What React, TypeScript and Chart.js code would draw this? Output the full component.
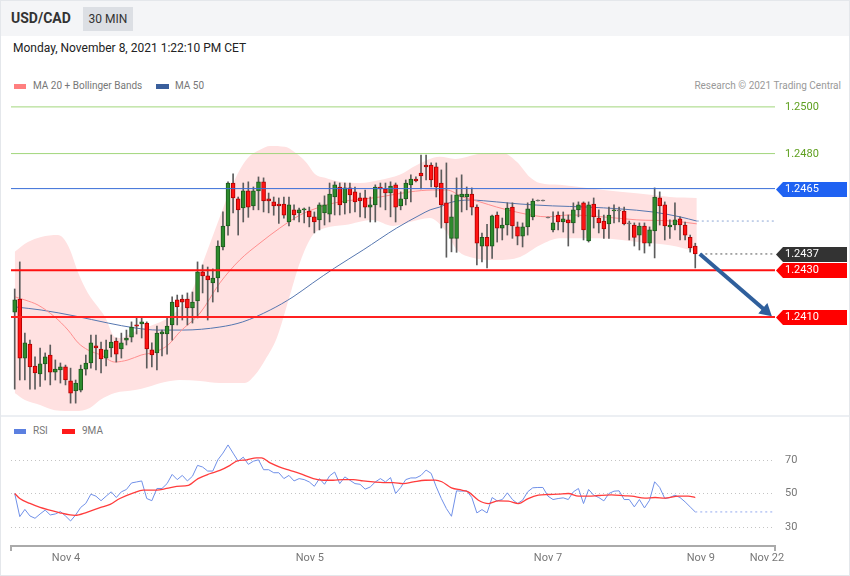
import React, { useEffect, useRef } from 'react';
import { Chart, registerables } from 'chart.js';
Chart.register(...registerables);

const FONT = 'Roboto, Arial, sans-serif';

// ---- Candles (30 MIN, USD/CAD) ----
const candleOpen = [1.24121,1.24177,1.23924,1.23984,1.23890,1.23856,1.23899,1.23937,1.23864,1.23873,1.23886,1.23826,1.23783,1.23787,1.23877,1.23903,1.23976,1.23963,1.23924,1.23967,1.23997,1.23963,1.24001,1.24014,1.24066,1.24070,1.24074,1.23959,1.23946,1.24027,1.24027,1.24066,1.24173,1.24177,1.24177,1.24139,1.24169,1.24293,1.24276,1.24246,1.24267,1.24400,1.24490,1.24674,1.24606,1.24567,1.24640,1.24576,1.24640,1.24679,1.24606,1.24593,1.24584,1.24584,1.24507,1.24559,1.24546,1.24559,1.24554,1.24529,1.24516,1.24546,1.24541,1.24614,1.24657,1.24589,1.24653,1.24636,1.24610,1.24610,1.24571,1.24580,1.24657,1.24649,1.24631,1.24666,1.24576,1.24606,1.24666,1.24691,1.24717,1.24751,1.24751,1.24743,1.24674,1.24589,1.24437,1.24437,1.24614,1.24614,1.24627,1.24571,1.24403,1.24441,1.24403,1.24537,1.24481,1.24494,1.24571,1.24486,1.24446,1.24486,1.24529,1.24597,1.24597,1.24524,1.24473,1.24537,1.24507,1.24516,1.24503,1.24559,1.24589,1.24426,1.24584,1.24524,1.24511,1.24499,1.24554,1.24554,1.24554,1.24499,1.24494,1.24451,1.24490,1.24416,1.24469,1.24610,1.24580,1.24486,1.24494,1.24520,1.24494,1.24441,1.24404];
const candleHigh = [1.24220,1.24336,1.24031,1.24001,1.23929,1.23967,1.23946,1.23980,1.23916,1.23903,1.23894,1.23881,1.23830,1.23894,1.23937,1.24023,1.24023,1.23993,1.24001,1.24023,1.24010,1.24031,1.24044,1.24079,1.24096,1.24096,1.24079,1.23989,1.24061,1.24044,1.24096,1.24186,1.24194,1.24194,1.24203,1.24207,1.24336,1.24323,1.24314,1.24306,1.24426,1.24550,1.24679,1.24713,1.24614,1.24674,1.24679,1.24657,1.24700,1.24696,1.24631,1.24614,1.24610,1.24614,1.24614,1.24580,1.24567,1.24567,1.24571,1.24550,1.24589,1.24619,1.24674,1.24679,1.24674,1.24674,1.24674,1.24657,1.24631,1.24644,1.24614,1.24666,1.24674,1.24674,1.24679,1.24674,1.24636,1.24687,1.24709,1.24700,1.24794,1.24794,1.24760,1.24760,1.24730,1.24760,1.24623,1.24696,1.24709,1.24657,1.24653,1.24580,1.24460,1.24497,1.24537,1.24550,1.24524,1.24589,1.24589,1.24507,1.24503,1.24589,1.24606,1.24597,1.24597,1.24524,1.24550,1.24550,1.24550,1.24537,1.24589,1.24593,1.24593,1.24593,1.24610,1.24559,1.24537,1.24571,1.24580,1.24571,1.24571,1.24511,1.24503,1.24503,1.24503,1.24486,1.24653,1.24636,1.24593,1.24516,1.24589,1.24529,1.24507,1.24451,1.24416];
const candleLow = [1.23791,1.23830,1.23830,1.23791,1.23791,1.23803,1.23830,1.23809,1.23830,1.23817,1.23809,1.23731,1.23731,1.23779,1.23851,1.23881,1.23873,1.23860,1.23890,1.23929,1.23907,1.23924,1.23980,1.23993,1.24027,1.24010,1.23881,1.23886,1.23873,1.23933,1.23941,1.24001,1.24066,1.24087,1.24066,1.24074,1.24096,1.24203,1.24087,1.24164,1.24207,1.24387,1.24451,1.24546,1.24451,1.24507,1.24527,1.24559,1.24559,1.24550,1.24546,1.24536,1.24501,1.24523,1.24490,1.24516,1.24507,1.24503,1.24486,1.24460,1.24473,1.24494,1.24507,1.24537,1.24537,1.24541,1.24546,1.24550,1.24529,1.24524,1.24507,1.24507,1.24571,1.24559,1.24529,1.24507,1.24559,1.24580,1.24593,1.24679,1.24649,1.24687,1.24657,1.24614,1.24481,1.24356,1.24379,1.24377,1.24550,1.24559,1.24537,1.24323,1.24336,1.24310,1.24351,1.24421,1.24430,1.24451,1.24437,1.24409,1.24400,1.24451,1.24516,1.24597,1.24597,1.24524,1.24464,1.24473,1.24464,1.24404,1.24460,1.24529,1.24430,1.24421,1.24481,1.24460,1.24437,1.24437,1.24503,1.24507,1.24494,1.24430,1.24404,1.24387,1.24374,1.24404,1.24353,1.24494,1.24430,1.24437,1.24473,1.24430,1.24430,1.24378,1.24310];
const candleClose = [1.24173,1.23924,1.23989,1.23886,1.23860,1.23899,1.23929,1.23864,1.23877,1.23886,1.23830,1.23774,1.23817,1.23877,1.23903,1.23989,1.23967,1.23920,1.23959,1.23993,1.23941,1.23989,1.24010,1.24057,1.24061,1.24079,1.23963,1.23937,1.24031,1.24036,1.24061,1.24164,1.24143,1.24164,1.24139,1.24164,1.24293,1.24276,1.24259,1.24267,1.24404,1.24490,1.24674,1.24610,1.24559,1.24640,1.24571,1.24640,1.24679,1.24597,1.24597,1.24576,1.24576,1.24536,1.24580,1.24537,1.24559,1.24561,1.24529,1.24507,1.24580,1.24580,1.24627,1.24666,1.24580,1.24653,1.24623,1.24593,1.24597,1.24571,1.24580,1.24657,1.24649,1.24631,1.24661,1.24571,1.24606,1.24674,1.24691,1.24683,1.24704,1.24743,1.24687,1.24657,1.24580,1.24503,1.24529,1.24623,1.24627,1.24627,1.24571,1.24416,1.24441,1.24403,1.24533,1.24481,1.24494,1.24567,1.24490,1.24446,1.24486,1.24563,1.24597,1.24597,1.24597,1.24524,1.24503,1.24507,1.24520,1.24503,1.24559,1.24580,1.24473,1.24580,1.24529,1.24503,1.24477,1.24537,1.24559,1.24554,1.24499,1.24499,1.24441,1.24490,1.24416,1.24473,1.24614,1.24576,1.24490,1.24494,1.24516,1.24494,1.24451,1.24396,1.24370];

// ---- Bollinger bands / moving averages (bar index, price) ----
const bbUpperIdx = [0,2.6,5.2,8.5,9.5,10.9,12.5,14.4,16.4,17.8,19.7,20.9,22.3,24.3,26.2,28.2,30.2,32.1,34.5,37.1,39.8,41.8,43.8,45.9,48.3,50.3,53.2,54.8,57.5,59.1,61.1,64,68,71.9,75.8,79.2,83.7,86.7,91.6,96.1,98.9,101.4,103.4,107.3,112.7,119.2,125.6,129,134.3];
const bbUpperVal = [1.24379,1.24421,1.24443,1.24451,1.24439,1.24387,1.24289,1.24203,1.24143,1.24100,1.24014,1.24010,1.24023,1.24044,1.24057,1.24074,1.24096,1.24130,1.24194,1.24336,1.24494,1.24610,1.24709,1.24781,1.24816,1.24833,1.24829,1.24811,1.24760,1.24713,1.24696,1.24679,1.24674,1.24687,1.24709,1.24751,1.24786,1.24777,1.24799,1.24803,1.24764,1.24700,1.24674,1.24666,1.24653,1.24636,1.24623,1.24614,1.24610];
const bbLowerIdx = [0,2,5,7.9,11.9,14.8,16.8,19.7,23.7,26.2,29.6,32.5,36.5,40.4,45.3,47.3,49.3,51.6,54.2,56.2,58.7,61.1,65,70.5,74.5,77.8,81.7,84.7,87.1,89.6,94.9,99.5,103.4,107.3,115.2,123.1,129,134.3];
const bbLowerVal = [1.23774,1.23744,1.23723,1.23701,1.23697,1.23710,1.23744,1.23774,1.23787,1.23800,1.23821,1.23830,1.23826,1.23817,1.23817,1.23851,1.23916,1.24010,1.24194,1.24336,1.24451,1.24481,1.24494,1.24516,1.24490,1.24507,1.24524,1.24473,1.24387,1.24357,1.24344,1.24357,1.24407,1.24437,1.24437,1.24420,1.24407,1.24379];
const ma20Idx = [0.1,2,4.6,7.9,10.5,12.5,14.4,17,19.7,22.3,24.9,27.6,30.2,32.5,36.5,40.4,44.3,48.3,52.2,56.2,60.1,63,71.9,77.8,82.3,85.1,88.2,91.6,94.9,99.5,104.8,109.3,115.8,122.5,129.6,134.3];
const ma20Val = [1.24186,1.24173,1.24151,1.24100,1.24044,1.23989,1.23959,1.23937,1.23907,1.23916,1.23937,1.23950,1.23980,1.24036,1.24117,1.24246,1.24344,1.24417,1.24481,1.24537,1.24571,1.24589,1.24614,1.24636,1.24644,1.24644,1.24614,1.24593,1.24571,1.24546,1.24529,1.24537,1.24529,1.24516,1.24511,1.24499];
const ma50Idx = [0.1,5.2,11.9,18.4,23.7,28.2,33.1,40.4,44.9,50.3,54.8,58.7,63,68.6,75.2,79.8,81.8,83.7,85.7,89.6,94.9,99.5,105.9,112.7,119.2,125.6,131,134.3];
const ma50Val = [1.24143,1.24130,1.24104,1.24074,1.24053,1.24044,1.24044,1.24057,1.24079,1.24130,1.24186,1.24246,1.24310,1.24387,1.24481,1.24537,1.24559,1.24571,1.24590,1.24601,1.24593,1.24584,1.24576,1.24571,1.24563,1.24550,1.24529,1.24511];

// ---- Levels & tags ----
const levelValues = [1.2500, 1.2480, 1.2465, 1.2430, 1.2410];
const tagValues = [1.2500, 1.2480, 1.2465, 1.2437, 1.2430, 1.2410];
const tagLabels = ['1.2500', '1.2480', '1.2465', '1.2437', '1.2430', '1.2410'];
const lastPrice = 1.2437;
const arrowIdx = [134.9, 147.9];
const arrowVal = [1.2437, 1.24126];

// ---- RSI ----
const rsiValues = [50,36.2,40.5,36.6,35.2,37.8,40.1,37.2,37.8,39.2,36.6,33.6,37.2,41.7,44.1,49.6,48.4,45.7,48.4,51,47.6,51,52.4,56.3,56.9,57.5,47,45.7,53,53,55.9,61.4,58.3,60.8,57.5,60.3,66.8,65.8,63.4,63.4,70.1,74.1,79,74.1,69.3,71.7,67.4,69.3,70.1,64.2,64.2,62.4,62.4,58.9,60.8,57.5,58.9,58.3,56.9,54.3,58.9,55.5,60.5,62.8,55.9,59.9,57.9,55.9,55.5,52.6,53.9,56.9,58.9,56.9,59.5,50,53.6,58.3,59.3,59.3,60.8,64,62,54,47,41,36.4,51.6,51.4,51.6,47.6,38.4,40.4,38.4,47.6,45.6,46.4,50.4,46.4,44,46,51,53.4,53.6,53.6,48.4,46.4,47,47.4,46.4,51,53,44,52.4,49,47.6,45.6,50,51.4,51.6,46.4,46.4,42,46.4,41.4,46,57,53.6,47,47.6,49,47.6,45,42,39];
const rsiMaIdx = [0,1,3,5,6.9,8.9,10.9,11.9,14.2,16.8,18.8,20.7,23.4,25.3,27.9,29.9,31.9,34.2,36.1,38.4,40.4,42.4,43.7,45.7,47.6,48.6,50.3,52.2,54.2,56.2,58.8,60.8,62.7,64.7,66.7,68.6,70.6,72.6,74.5,76.5,78.5,80.8,82.8,84.1,86,88,89.3,91.3,93.3,95.2,97.2,99.2,101.1,103.1,105.1,107,109,111,113,114.9,117.5,120.2,121.5,124.1,126.1,128,130.7,132.6,134];
const rsiMaVal = [50,47,44.1,41.7,40.1,38.5,37.2,37,38.8,41.5,43.5,47,50.4,52,52,53,54.3,54.9,58.9,61.8,63.8,66.8,69.3,70.1,71.3,71.3,68.3,65.8,63.8,61.8,58.9,57.9,57.9,58.3,58.3,57.5,56.9,56.5,56.5,55.9,56.9,57.9,58,57,53.4,52,51,46,44,45.6,45.4,44,47,49,49.4,49.6,50,48.4,48.4,48.8,49.2,48.6,48.4,47.2,47.6,47.2,48.4,48.4,47.6];
const rsiGridValues = [30, 50, 70];
const xTickValues = [-0.73, 10.1, 58.1, 105, 135.1, 148.1, 149.7];
const xTickLabels = ['', 'Nov 4', 'Nov 5', 'Nov 7', 'Nov 9', 'Nov 22', ''];

const X_MIN = -0.73;
const X_MAX = 149.7;

const GREEN = '#2e8b2e';
const GREEN_EDGE = '#1c5a1c';
const RED = '#ff1414';
const RED_EDGE = '#b00000';
const levelColors = ['#a2d67c', '#a2d67c', '#3a6fd8', '#ff1010', '#ff2020'];
const levelWidths = [1, 1, 1, 2, 2];
const tagBg = ['', '', '#1f62f2', '#333333', '#ff0000', '#ff0000'];
const tagText = ['#5fa020', '#5fa020', '#ffffff', '#ffffff', '#ffffff', '#ffffff'];

const pts = (xs: number[], ys: number[]) => xs.map((x, i) => ({ x, y: ys[i] }));

const tagPlugin = {
  id: 'priceTags',
  afterDraw(chart: any) {
    const { ctx, chartArea } = chart;
    const y = chart.scales.y;
    ctx.save();
    ctx.font = `11px ${FONT}`;
    ctx.textBaseline = 'middle';
    ctx.textAlign = 'left';
    tagValues.forEach((v, i) => {
      const py = Math.round(y.getPixelForValue(v)) + 0.5;
      const left = chartArea.right + 1;
      if (tagBg[i]) {
        ctx.fillStyle = tagBg[i];
        ctx.beginPath();
        ctx.moveTo(left, py);
        ctx.lineTo(left + 7, py - 7.5);
        ctx.lineTo(847, py - 7.5);
        ctx.lineTo(847, py + 7.5);
        ctx.lineTo(left + 7, py + 7.5);
        ctx.closePath();
        ctx.fill();
      }
      ctx.fillStyle = tagText[i];
      ctx.fillText(tagLabels[i], 785, py);
    });
    ctx.restore();
  },
};

const noPad = (s: any) => {
  s.paddingTop = 0;
  s.paddingBottom = 0;
  s.paddingLeft = 0;
  s.paddingRight = 0;
};

export default function App() {
  const priceRef = useRef<HTMLCanvasElement>(null);
  const rsiRef = useRef<HTMLCanvasElement>(null);

  useEffect(() => {
    Chart.defaults.font.family = FONT;
    const idx = candleOpen.map((_, i) => i);
    const bodyColors = idx.map((i) => (candleClose[i] > candleOpen[i] ? GREEN : candleClose[i] < candleOpen[i] ? RED : '#777777'));
    const bodyEdges = idx.map((i) => (candleClose[i] > candleOpen[i] ? GREEN_EDGE : candleClose[i] < candleOpen[i] ? RED_EDGE : '#777777'));

    const levelSets = levelValues.map((v, i) => ({
      type: 'line',
      data: [{ x: X_MIN, y: v }, { x: X_MAX, y: v }],
      borderColor: levelColors[i],
      borderWidth: levelWidths[i],
      pointRadius: 0,
      order: 1,
    }));

    const price = new Chart(priceRef.current as HTMLCanvasElement, {
      type: 'line',
      data: {
        datasets: [
          {
            type: 'line',
            data: pts(bbUpperIdx, bbUpperVal),
            borderColor: 'transparent',
            borderWidth: 0,
            pointRadius: 0,
            cubicInterpolationMode: 'monotone',
            fill: '+1',
            backgroundColor: '#ffe1e1',
            order: 20,
          },
          {
            type: 'line',
            data: pts(bbLowerIdx, bbLowerVal),
            borderColor: 'transparent',
            borderWidth: 0,
            pointRadius: 0,
            cubicInterpolationMode: 'monotone',
            fill: false,
            order: 21,
          },
          {
            type: 'line',
            data: pts(ma50Idx, ma50Val),
            borderColor: '#5677b0',
            borderWidth: 1,
            pointRadius: 0,
            cubicInterpolationMode: 'monotone',
            order: 9,
          },
          {
            type: 'line',
            data: pts(ma20Idx, ma20Val),
            borderColor: '#ff8f8f',
            borderWidth: 1,
            pointRadius: 0,
            cubicInterpolationMode: 'monotone',
            order: 8,
          },
          {
            type: 'line',
            data: [{ x: ma50Idx[ma50Idx.length - 1], y: ma50Val[ma50Val.length - 1] }, { x: X_MAX, y: ma50Val[ma50Val.length - 1] }],
            borderColor: '#8ca6d6',
            borderWidth: 1,
            borderDash: [2, 3],
            pointRadius: 0,
            order: 7,
          },
          {
            type: 'line',
            data: [{ x: 135, y: lastPrice }, { x: X_MAX, y: lastPrice }],
            borderColor: '#555555',
            borderWidth: 1,
            borderDash: [2, 3],
            pointRadius: 0,
            order: 7,
          },
          {
            type: 'bar',
            data: idx.map((i) => ({ x: i, y: [candleLow[i], candleHigh[i]] })),
            backgroundColor: '#5c5c5c',
            barThickness: 1,
            grouped: false,
            minBarLength: 1,
            order: 5,
          },
          {
            type: 'bar',
            data: idx.map((i) => ({ x: i, y: [candleOpen[i], candleClose[i]] })),
            backgroundColor: bodyColors,
            borderColor: bodyEdges,
            borderWidth: 1,
            borderSkipped: false,
            barThickness: 4,
            grouped: false,
            minBarLength: 1,
            order: 4,
          },
          ...levelSets,
          {
            type: 'line',
            data: pts(arrowIdx, arrowVal),
            borderColor: '#2f5f9c',
            backgroundColor: '#2f5f9c',
            borderWidth: 4,
            pointRadius: [0, 8],
            pointStyle: 'triangle',
            pointRotation: 131,
            pointBorderWidth: 0,
            order: 0,
          },
        ] as any,
      },
      options: {
        animation: false,
        responsive: false,
        devicePixelRatio: 1,
        events: [],
        layout: { autoPadding: false, padding: { left: 11, right: 75, top: 0, bottom: 0 } },
        plugins: { legend: { display: false }, tooltip: { enabled: false } },
        scales: {
          x: { type: 'linear', display: false, min: X_MIN, max: X_MAX, offset: false },
          y: { type: 'linear', display: false, min: 1.23693, max: 1.25051 },
        },
      },
      plugins: [tagPlugin],
    } as any);

    const rsi = new Chart(rsiRef.current as HTMLCanvasElement, {
      type: 'line',
      data: {
        datasets: [
          {
            data: rsiValues.map((v, i) => ({ x: i, y: v })),
            borderColor: '#7090e8',
            borderWidth: 1,
            pointRadius: 0,
            order: 2,
          },
          {
            data: pts(rsiMaIdx, rsiMaVal),
            borderColor: '#ff3c3c',
            borderWidth: 1.3,
            pointRadius: 0,
            cubicInterpolationMode: 'monotone',
            order: 1,
          },
          {
            data: [{ x: rsiValues.length - 1, y: rsiValues[rsiValues.length - 1] }, { x: X_MAX, y: rsiValues[rsiValues.length - 1] }],
            borderColor: '#93a9ef',
            borderWidth: 1,
            borderDash: [2, 3],
            pointRadius: 0,
            order: 3,
          },
        ],
      },
      options: {
        animation: false,
        responsive: false,
        devicePixelRatio: 1,
        events: [],
        layout: { autoPadding: false, padding: { left: 11, right: 0, top: 0, bottom: 0 } },
        plugins: { legend: { display: false }, tooltip: { enabled: false } },
        scales: {
          x: {
            type: 'linear',
            min: X_MIN,
            max: X_MAX,
            offset: false,
            afterBuildTicks: (s: any) => {
              s.ticks = xTickValues.map((v) => ({ value: v }));
            },
            afterFit: (s: any) => {
              s.height = 30;
              noPad(s);
            },
            ticks: {
              autoSkip: false,
              maxRotation: 0,
              padding: 1,
              color: '#777777',
              font: { size: 11, family: FONT },
              callback: (_v: any, i: number) => xTickLabels[i],
            },
            grid: {
              drawOnChartArea: false,
              drawTicks: true,
              tickLength: 5,
              lineWidth: 2,
              color: (c: any) => (c.index === 0 || c.index === xTickValues.length - 1 ? '#aaaaaa' : 'rgba(0,0,0,0)'),
            },
            border: { display: true, color: '#aaaaaa', width: 2 },
          },
          y: {
            type: 'linear',
            position: 'right',
            min: 18.66,
            max: 81.94,
            afterBuildTicks: (s: any) => {
              s.ticks = rsiGridValues.map((v) => ({ value: v }));
            },
            afterFit: (s: any) => {
              s.width = 75;
              noPad(s);
            },
            ticks: { padding: 10, color: '#777777', font: { size: 11, family: FONT } },
            grid: { drawTicks: false, color: '#c4c4c4', lineWidth: 1 },
            border: { display: false, dash: [1, 3] },
          },
        },
      },
    } as any);

    return () => {
      price.destroy();
      rsi.destroy();
    };
  }, []);

  const txt: React.CSSProperties = { position: 'absolute', whiteSpace: 'nowrap', lineHeight: 1 };

  return (
    <div style={{ position: 'absolute', left: 0, top: 0, width: 850, height: 576, background: '#ffffff', fontFamily: FONT, overflow: 'hidden' }}>
      <div style={{ position: 'absolute', left: 0, top: 0, width: 850, height: 576, boxSizing: 'border-box', border: '1px solid #e4e7eb' }} />
      <div style={{ position: 'absolute', left: 1, top: 1, width: 848, height: 35, background: '#f4f5f7' }} />
      <div style={{ ...txt, left: 11, top: 11, fontSize: 14, fontWeight: 700, color: '#333' }}>USD/CAD</div>
      <div style={{ position: 'absolute', left: 83, top: 7, width: 50, height: 24, background: '#dcdfe4', color: '#333', fontSize: 12, lineHeight: '24px', textAlign: 'center' }}>30 MIN</div>
      <div style={{ ...txt, left: 13, top: 42, fontSize: 12, color: '#222' }}>Monday, November 8, 2021 1:22:10 PM CET</div>

      <div style={{ position: 'absolute', left: 14, top: 84, width: 12, height: 5, background: '#ff7f7f' }} />
      <div style={{ ...txt, left: 33, top: 81, fontSize: 10, color: '#777' }}>MA 20 + Bollinger Bands</div>
      <div style={{ position: 'absolute', left: 156, top: 84, width: 13, height: 5, background: '#3a5f9c' }} />
      <div style={{ ...txt, left: 175, top: 81, fontSize: 10, color: '#777' }}>MA 50</div>
      <div style={{ ...txt, right: 9, top: 81, fontSize: 10, color: '#999' }}>Research © 2021 Trading Central</div>

      <canvas ref={priceRef} width={850} height={317} style={{ position: 'absolute', left: 0, top: 95 }} />

      <div style={{ position: 'absolute', left: 1, top: 415, width: 848, height: 2, background: '#eceff3' }} />

      <div style={{ position: 'absolute', left: 14, top: 429, width: 12, height: 5, background: '#5b7fe0' }} />
      <div style={{ ...txt, left: 33, top: 426, fontSize: 10, color: '#777' }}>RSI</div>
      <div style={{ position: 'absolute', left: 62, top: 429, width: 13, height: 5, background: '#ff1a1a' }} />
      <div style={{ ...txt, left: 82, top: 426, fontSize: 10, color: '#777' }}>9MA</div>

      <canvas ref={rsiRef} width={850} height={136} style={{ position: 'absolute', left: 0, top: 440 }} />
    </div>
  );
}
